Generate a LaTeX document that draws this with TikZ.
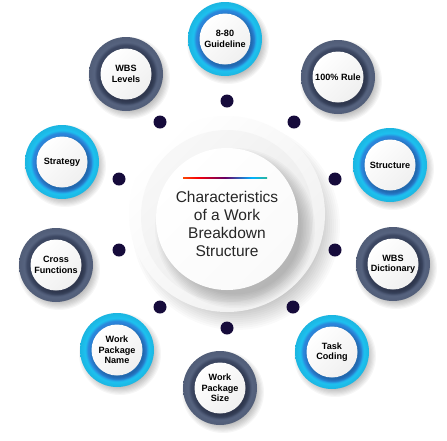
\documentclass[tikz,border=0pt]{standalone}
\usepackage{fontspec}
\setmainfont{Liberation Sans}
\definecolor{cyanA}{HTML}{1DC1EF}
\definecolor{cyanB}{HTML}{2B84DA}
\definecolor{slateA}{HTML}{56637F}
\definecolor{slateB}{HTML}{3C4762}
\definecolor{dotc}{HTML}{160B3B}
\pgfdeclareradialshading{cyanring}{\pgfpointorigin}{color(0bp)=(cyanB); color(17bp)=(cyanB); color(19.5bp)=(cyanB); color(21.5bp)=(cyanA); color(25bp)=(cyanA!94!black); color(50bp)=(cyanA!94!black)}
\pgfdeclareradialshading{slatering}{\pgfpointorigin}{color(0bp)=(slateB); color(17bp)=(slateB); color(19.5bp)=(slateB); color(21.5bp)=(slateA); color(25bp)=(slateA!94!black); color(50bp)=(slateA!94!black)}
\pgfdeclarehorizontalshading{rainbowline}{100bp}{color(0bp)=(yellow!85!orange); color(18bp)=(orange); color(34bp)=(red!85!purple); color(50bp)=(violet!80!black); color(66bp)=(cyan!70!blue); color(82bp)=(green!60!black!70); color(100bp)=(black!30)}
\tikzset{
  whitedisc/.style={circle, minimum size=51pt, inner sep=0pt, top color=white, bottom color=black!6, shading angle=45, align=center, font=\bfseries\fontsize{9.1}{10.3}\selectfont},
  dotn/.style={circle, fill=dotc, minimum size=13pt, inner sep=0pt},
  titletext/.style={align=center, inner sep=0pt, font=\fontsize{15.5}{18}\selectfont, text=black!85}
}
\newcommand\wbsitem[5]{%
  \foreach \k in {0,...,7}{\fill[black,opacity=0.035] ({#2+3},{#3+4}) circle[radius={(41-\k*1.2)*1pt}];}
  \shade[shading=#4] (#2,#3) circle[radius=37pt];
  \foreach \k in {0,...,3}{\fill[black,opacity=0.05] ({#2+1.5},{#3+2}) circle[radius={(28.5-\k*1)*1pt}];}
  \node[whitedisc] (#1) at (#2,#3) {#5};
}
\begin{document}
\begin{tikzpicture}[x=1pt,y=-1pt]
\useasboundingbox (0,0) rectangle (447,440);
\fill[white] (0,0) rectangle (447,440);
% central composite
\foreach \k in {0,...,11}{\fill[black,opacity=0.02] (236,226) circle[radius={(104-\k*2)*1pt}];}
\shade[top color=white, bottom color=black!6, shading angle=45] (227,214) circle[radius=98pt];
\shade[top color=black!3, bottom color=black!8, shading angle=45] (227,216) circle[radius=86pt];
\foreach \k in {0,...,9}{\fill[black,opacity=0.025] (235,228) circle[radius={(80-\k*1.5)*1pt}];}
\node[circle, minimum size=142pt, inner sep=0pt, top color=white, bottom color=black!2, shading angle=45] (hub) at (227,219) {};
\shade[shading=rainbowline] (183,177.4) rectangle (267,178.8);
\node[titletext] (title) at (227,224) {Characteristics\\of a Work\\Breakdown\\Structure};
% dots
\node[dotn] (d1) at (227,101) {};
\node[dotn] (d2) at (294,122) {};
\node[dotn] (d3) at (335,179) {};
\node[dotn] (d4) at (335,250) {};
\node[dotn] (d5) at (293,307) {};
\node[dotn] (d6) at (227,328) {};
\node[dotn] (d7) at (160,307) {};
\node[dotn] (d8) at (119,250) {};
\node[dotn] (d9) at (119,179) {};
\node[dotn] (d10) at (160,122) {};
% outer items
\wbsitem{guide}{225}{39}{cyanring}{8-80\\Guideline}
\wbsitem{rule}{338}{77}{slatering}{100\% Rule}
\wbsitem{struct}{390}{165}{cyanring}{Structure}
\wbsitem{dict}{393}{264}{slatering}{WBS\\Dictionary}
\wbsitem{task}{332}{352}{cyanring}{Task\\Coding}
\wbsitem{wpsize}{220}{388}{slatering}{Work\\Package\\Size}
\wbsitem{wpname}{117}{350}{cyanring}{Work\\Package\\Name}
\wbsitem{cross}{56}{265}{slatering}{Cross\\Functions}
\wbsitem{strat}{62}{162}{cyanring}{Strategy}
\wbsitem{levels}{126}{74}{slatering}{WBS\\Levels}
\end{tikzpicture}
\end{document}
